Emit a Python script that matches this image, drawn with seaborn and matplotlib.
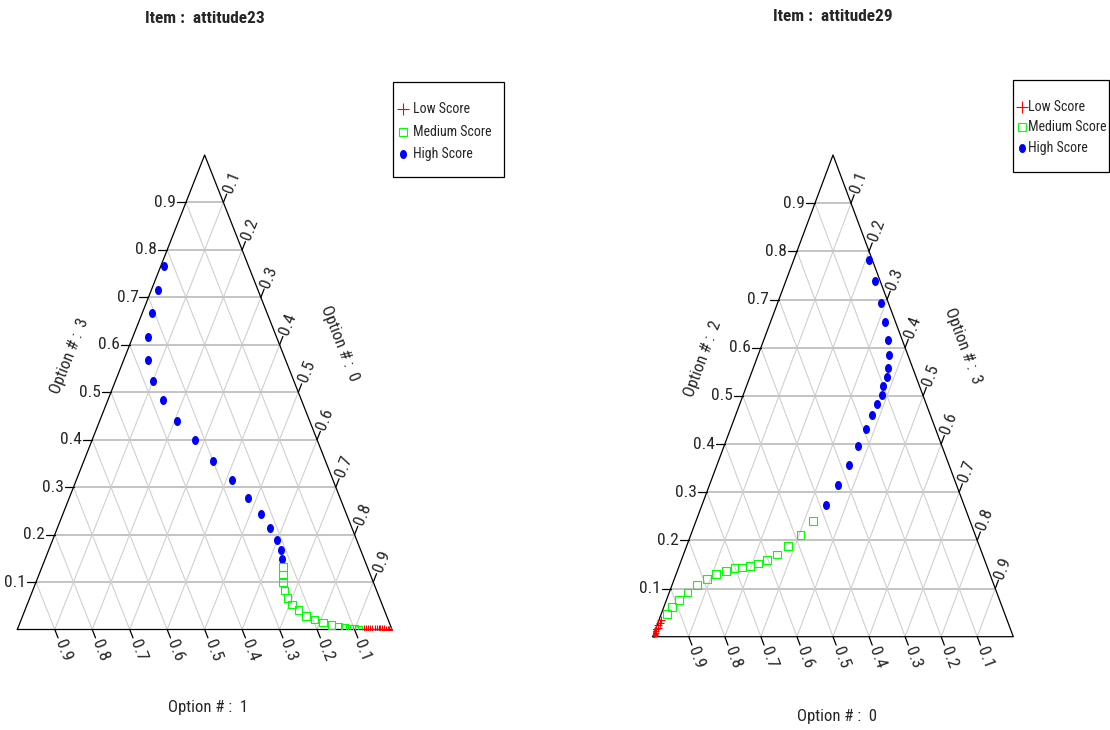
import numpy as np
import pandas as pd
import matplotlib
matplotlib.use("Agg")
import matplotlib.pyplot as plt
import seaborn as sns
from matplotlib import font_manager
from matplotlib.lines import Line2D
from matplotlib.patches import Rectangle
from matplotlib.markers import MarkerStyle
from matplotlib.transforms import Affine2D

# item attitude23: top vertex = option 3, right vertex = option 0, left vertex = option 1
att23_high_opt3 = [0.767, 0.715, 0.666, 0.616, 0.569, 0.524, 0.483, 0.439, 0.399,
                   0.356, 0.316, 0.277, 0.244, 0.213, 0.189, 0.168, 0.149]
att23_high_opt0 = [0.009, 0.017, 0.026, 0.041, 0.064, 0.099, 0.147, 0.206, 0.275,
                   0.344, 0.415, 0.476, 0.528, 0.568, 0.598, 0.619, 0.632]
att23_med_opt3 = [0.132, 0.116, 0.099, 0.082, 0.067, 0.053, 0.041, 0.028, 0.021,
                  0.015, 0.009, 0.005, 0.003, 0.0015, 0.0005, 0.0]
att23_med_opt0 = [0.643, 0.651, 0.659, 0.672, 0.688, 0.707, 0.730, 0.757, 0.783,
                  0.808, 0.834, 0.855, 0.872, 0.886, 0.899, 0.911]
att23_low_opt3 = [0.002, 0.002, 0.002, 0.001, 0.001, 0.001, 0.001, 0.001, 0.0005,
                  0.0005, 0.0005, 0.0, 0.0, 0.0, 0.0]
att23_low_opt0 = [0.923, 0.929, 0.935, 0.941, 0.947, 0.953, 0.959, 0.964, 0.969,
                  0.974, 0.979, 0.984, 0.989, 0.993, 0.997]

# item attitude29: top vertex = option 2, right vertex = option 3, left vertex = option 0
att29_high_opt2 = [0.782, 0.739, 0.693, 0.653, 0.615, 0.584, 0.558, 0.539, 0.520,
                   0.502, 0.484, 0.460, 0.431, 0.395, 0.356, 0.314, 0.274]
att29_high_opt3 = [0.210, 0.248, 0.286, 0.317, 0.344, 0.362, 0.374, 0.380, 0.380,
                   0.384, 0.379, 0.377, 0.375, 0.372, 0.366, 0.356, 0.344]
att29_med_opt2 = [0.240, 0.211, 0.188, 0.171, 0.159, 0.152, 0.147, 0.144, 0.142,
                  0.137, 0.130, 0.120, 0.107, 0.092, 0.076, 0.062, 0.047]
att29_med_opt3 = [0.324, 0.304, 0.281, 0.259, 0.237, 0.216, 0.196, 0.176, 0.156,
                  0.134, 0.111, 0.090, 0.070, 0.051, 0.035, 0.023, 0.016]
att29_low_opt2 = [0.034, 0.029, 0.024, 0.019, 0.015, 0.011, 0.008, 0.005, 0.003, 0.001]
att29_low_opt3 = [0.006, 0.005, 0.004, 0.004, 0.003, 0.002, 0.002, 0.001, 0.001, 0.0]

ticks = [0.1, 0.2, 0.3, 0.4, 0.5, 0.6, 0.7, 0.8, 0.9]
groups = ["Low Score", "Medium Score", "High Score"]

W, H = 1110, 730

sns.set_style("white")

# narrow helvetica-like face if one is around
available = {f.name for f in font_manager.fontManager.ttflist}
narrow = [n for n in ["Liberation Sans Narrow", "Arial Narrow", "Nimbus Sans Narrow",
                      "Roboto Condensed", "Archivo Narrow", "PT Sans Narrow",
                      "Sofia Sans Condensed"] if n in available]
plt.rcParams["font.family"] = narrow[:1] + ["Liberation Sans", "DejaVu Sans"]
condensed = bool(narrow)
fs_tick = 12.5 if condensed else 11
fs_lab = 12 if condensed else 10.5
fs_leg = 10 if condensed else 8.5
fs_title = 12.5 if condensed else 11


def to_frame(parts):
    rows = []
    for group, right, top in parts:
        for r, t in zip(right, top):
            rows.append({"group": group, "x": r + t / 2, "y": t})
    return pd.DataFrame(rows)


def draw_ternary(ax, df, title, left_lab, right_lab, bottom_lab, w_px, h_px):
    ax.set_xlim(0, 1)
    ax.set_ylim(0, 1)
    ax.axis("off")
    ang = np.degrees(np.arctan2(h_px, w_px / 2))
    tick_len = 9.0
    ux = np.cos(np.radians(ang)) * tick_len / w_px
    uy = np.sin(np.radians(ang)) * tick_len / h_px

    for k in ticks:
        ax.plot([k / 2, 1 - k / 2], [k, k], color="#c4c4c4", lw=1.4, zorder=1)
        ax.plot([k, (1 + k) / 2], [0, 1 - k], color="#d0d0d0", lw=0.8, zorder=1)
        ax.plot([1 - k, (1 - k) / 2], [0, 1 - k], color="#d0d0d0", lw=0.8, zorder=1)

        # left edge ticks (horizontal)
        x0 = k / 2
        ax.plot([x0, x0 - tick_len / w_px], [k, k], color="black", lw=0.9, clip_on=False)
        ax.text(x0 - (tick_len + 1) / w_px, k, f"{k:.1f}", ha="right", va="center",
                fontsize=fs_tick)
        # right edge ticks (parallel to left edge)
        xr, yr = (1 + k) / 2, 1 - k
        ax.plot([xr, xr + ux], [yr, yr + uy], color="black", lw=0.9, clip_on=False)
        ax.text(xr + ux * 1.25, yr + uy * 1.25, f"{k:.1f}", rotation=ang, rotation_mode="anchor",
                ha="left", va="center", fontsize=fs_tick)
        # bottom ticks (parallel to right edge)
        xb = 1 - k
        ax.plot([xb, xb + ux], [0, -uy], color="black", lw=0.9, clip_on=False)
        ax.text(xb + ux * 1.25, -uy * 1.25, f"{k:.1f}", rotation=-ang, rotation_mode="anchor",
                ha="left", va="center", fontsize=fs_tick)

    ax.plot([0, 1, 0.5, 0], [0, 0, 1, 0], color="black", lw=0.9, clip_on=False, zorder=2)

    sns.scatterplot(data=df[df.group == "High Score"], x="x", y="y", ax=ax,
                    marker=MarkerStyle("o", transform=Affine2D().scale(0.78, 1.0)),
                    color="#0000ff", s=42, linewidth=0, zorder=3, legend=False)
    sns.scatterplot(data=df[df.group == "Medium Score"], x="x", y="y", ax=ax, marker="s",
                    color="#00ff00", facecolors="none", edgecolor="#00ff00", s=30,
                    linewidth=0.8, zorder=3, legend=False)
    sns.scatterplot(data=df[df.group == "Low Score"], x="x", y="y", ax=ax, marker="+",
                    color="#ff0000", s=40, linewidth=0.8, zorder=4, legend=False)
    ax.set_xlabel("")
    ax.set_ylabel("")

    ax.text(0.5, 1.288, title, ha="center", va="center", fontsize=fs_title, fontweight="bold")
    ax.text(0.14, 0.576, left_lab, rotation=ang, ha="center", va="center", fontsize=fs_lab)
    ax.text(0.86, 0.603, right_lab, rotation=-ang, ha="center", va="center", fontsize=fs_lab)
    ax.text(0.51, -0.165, bottom_lab, ha="center", va="center", fontsize=fs_lab)


def draw_legend(fig, box, rows_y, marker_x, text_x):
    l, t, r, b = box
    fig.add_artist(Rectangle((l / W, 1 - b / H), (r - l) / W, (b - t) / H,
                             transform=fig.transFigure, fill=False, edgecolor="black", lw=0.9))
    styles = [
        dict(marker="+", color="#ff0000", markersize=8, markeredgewidth=0.8),
        dict(marker="s", color="#00ff00", markerfacecolor="none", markersize=5.5,
             markeredgewidth=0.8),
        dict(marker=MarkerStyle("o", transform=Affine2D().scale(0.78, 1.0)), color="#0000ff",
             markersize=6.5, markeredgewidth=0),
    ]
    for yy, label, st in zip(rows_y, groups, styles):
        fig.add_artist(Line2D([marker_x / W], [1 - yy / H], transform=fig.transFigure,
                              linestyle="none", **st))
        fig.text(text_x / W, 1 - yy / H, label, ha="left", va="center", fontsize=fs_leg)


fig = plt.figure(figsize=(W / 100, H / 100), dpi=100)

# left triangle: pixel vertices (17.3, 629.5) (392, 629.5) (204.7, 155)
ax1 = fig.add_axes([17.3 / W, 1 - 629.5 / H, 374.7 / W, 474.5 / H])
df23 = to_frame([("High Score", att23_high_opt0, att23_high_opt3),
                 ("Medium Score", att23_med_opt0, att23_med_opt3),
                 ("Low Score", att23_low_opt0, att23_low_opt3)])
draw_ternary(ax1, df23, "Item :  attitude23", "Option # :  3", "Option # :  0",
             "Option # :  1", 374.7, 474.5)

# right triangle: pixel vertices (652.7, 636.7) (1013.3, 636.7) (833, 155)
ax2 = fig.add_axes([652.7 / W, 1 - 636.7 / H, 360.6 / W, 481.7 / H])
df29 = to_frame([("High Score", att29_high_opt3, att29_high_opt2),
                 ("Medium Score", att29_med_opt3, att29_med_opt2),
                 ("Low Score", att29_low_opt3, att29_low_opt2)])
draw_ternary(ax2, df29, "Item :  attitude29", "Option # :  2", "Option # :  3",
             "Option # :  0", 360.6, 481.7)

draw_legend(fig, (393.3, 81.7, 504, 176.7), [109, 131.5, 154], 402.7, 413)
draw_legend(fig, (1012.7, 80, 1109, 171.7), [106.7, 127, 148], 1021.7, 1028)

fig.savefig("out.png", dpi=100)
